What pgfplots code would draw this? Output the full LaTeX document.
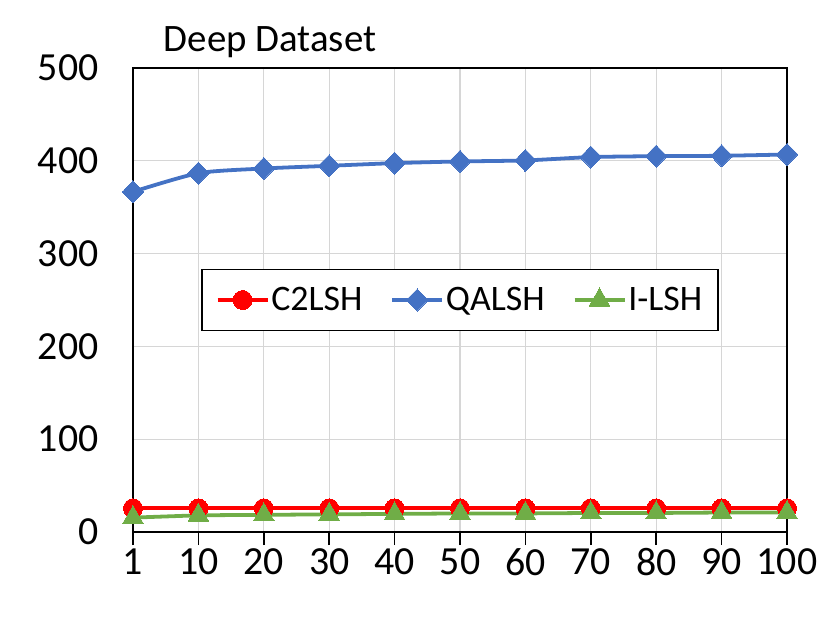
\documentclass[border=0pt]{standalone}
\usepackage{fontspec}
\setmainfont{Carlito}
\usepackage{pgfplots}
\pgfplotsset{compat=1.18}
\definecolor{cred}{HTML}{FF0000}
\definecolor{cblue}{HTML}{4472C4}
\definecolor{cgreen}{HTML}{70AD47}
\begin{document}
\begin{tikzpicture}
\begin{axis}[
  at={(0,0)}, anchor=south west,
  scale only axis, width=654bp, height=464bp,
  xmin=0, xmax=10, ymin=0, ymax=500,
  xtick={0,1,2,3,4,5,6,7,8,9,10},
  xticklabels={1,10,20,30,40,50,60,70,80,90,100},
  ytick={0,100,200,300,400,500},
  /pgf/number format/assume math mode=true,
  tick label style={font=\fontsize{40}{46}\selectfont},
  grid=major,
  major grid style={draw=black!16, line width=1.3pt},
  axis line style={line width=1.5pt, black},
  xtick pos=bottom, ytick pos=left,
  tick align=outside,
  major tick length=13bp,
  x tick style={line width=1.5pt, black},
  y tick style={draw=none},
  xticklabel style={yshift=0bp},
  yticklabel style={xshift=-18bp},
  legend style={at={(0.5,0.5)}, anchor=center, legend columns=3,
    draw=black, line width=1.5pt, font=\fontsize{36}{40}\selectfont,
    inner xsep=14bp, inner ysep=16bp,
    /tikz/every even column/.append style={column sep=26bp}},
  legend cell align=left,
  legend image code/.code={\draw[mark repeat=2,mark phase=2,#1,line width=3.5pt] plot coordinates {(0bp,0bp) (25bp,0bp) (50bp,0bp)};},
]
\addplot[color=cred, line width=3.8pt, mark=*, mark size=9.5bp, mark options={fill=cred, draw=cred, line width=0pt}]
  coordinates {(0,25.5) (1,25.5) (2,25.5) (3,25.5) (4,25.5) (5,25.5) (6,25.5) (7,25.5) (8,25.5) (9,25.5) (10,25.5)};
\addlegendentry{C2LSH}
\addplot[color=cblue, line width=3.8pt, smooth, tension=0.4, mark=diamond*, mark size=11bp, mark options={fill=cblue, draw=cblue, line width=0pt, xscale=1.3}]
  coordinates {(0,366.6) (1,386.7) (2,391.7) (3,394.6) (4,397.5) (5,399.3) (6,400.4) (7,404.0) (8,405.0) (9,405.4) (10,406.8)};
\addlegendentry{QALSH}
\addplot[color=cgreen, line width=3.8pt, mark=triangle*, mark size=12bp, mark options={fill=cgreen, draw=cgreen, line width=0pt}]
  coordinates {(0,15.5) (1,18) (2,18.5) (3,19) (4,19.5) (5,20) (6,20) (7,20.5) (8,20.5) (9,21) (10,21)};
\addlegendentry{I-LSH}
\end{axis}
\node[font=\fontsize{39}{44}\selectfont, anchor=center] at (137bp,490bp) {Deep Dataset};
\path[use as bounding box] (-133bp,-98bp) rectangle (698bp,532bp);
\end{tikzpicture}
\end{document}
